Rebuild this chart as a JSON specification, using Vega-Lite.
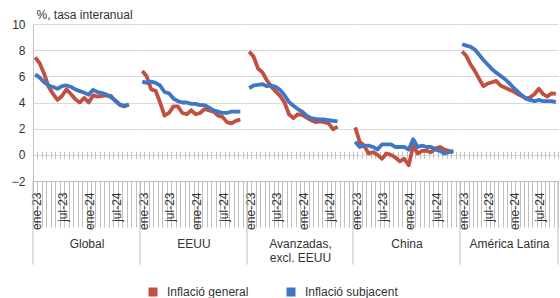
{
"$schema":"https://vega.github.io/schema/vega-lite/v6.json",
"background":"white",
"padding":{"left":5,"top":8,"right":0,"bottom":0},
"spacing":0,
"bounds":"flush",
"data":{"values":[
{"g":"Global","m":"ene-23","s":"Inflació general","v":7.45},{"g":"Global","m":"feb-23","s":"Inflació general","v":7.0},{"g":"Global","m":"mar-23","s":"Inflació general","v":6.2},{"g":"Global","m":"abr-23","s":"Inflació general","v":5.2},{"g":"Global","m":"may-23","s":"Inflació general","v":4.65},{"g":"Global","m":"jun-23","s":"Inflació general","v":4.2},{"g":"Global","m":"jul-23","s":"Inflació general","v":4.5},{"g":"Global","m":"ago-23","s":"Inflació general","v":5.0},{"g":"Global","m":"sep-23","s":"Inflació general","v":4.65},{"g":"Global","m":"oct-23","s":"Inflació general","v":4.25},{"g":"Global","m":"nov-23","s":"Inflació general","v":4.0},{"g":"Global","m":"dic-23","s":"Inflació general","v":4.35},{"g":"Global","m":"ene-24","s":"Inflació general","v":4.0},{"g":"Global","m":"feb-24","s":"Inflació general","v":4.55},{"g":"Global","m":"mar-24","s":"Inflació general","v":4.45},{"g":"Global","m":"abr-24","s":"Inflació general","v":4.5},{"g":"Global","m":"may-24","s":"Inflació general","v":4.55},{"g":"Global","m":"jun-24","s":"Inflació general","v":4.5},{"g":"Global","m":"jul-24","s":"Inflació general","v":4.1},{"g":"Global","m":"ago-24","s":"Inflació general","v":3.8},{"g":"Global","m":"sep-24","s":"Inflació general","v":3.7},{"g":"Global","m":"oct-24","s":"Inflació general","v":3.85},
{"g":"Global","m":"ene-23","s":"Inflació subjacent","v":6.15},{"g":"Global","m":"feb-23","s":"Inflació subjacent","v":5.9},{"g":"Global","m":"mar-23","s":"Inflació subjacent","v":5.55},{"g":"Global","m":"abr-23","s":"Inflació subjacent","v":5.3},{"g":"Global","m":"may-23","s":"Inflació subjacent","v":5.18},{"g":"Global","m":"jun-23","s":"Inflació subjacent","v":5.05},{"g":"Global","m":"jul-23","s":"Inflació subjacent","v":5.25},{"g":"Global","m":"ago-23","s":"Inflació subjacent","v":5.3},{"g":"Global","m":"sep-23","s":"Inflació subjacent","v":5.2},{"g":"Global","m":"oct-23","s":"Inflació subjacent","v":5.0},{"g":"Global","m":"nov-23","s":"Inflació subjacent","v":4.87},{"g":"Global","m":"dic-23","s":"Inflació subjacent","v":4.74},{"g":"Global","m":"ene-24","s":"Inflació subjacent","v":4.6},{"g":"Global","m":"feb-24","s":"Inflació subjacent","v":4.97},{"g":"Global","m":"mar-24","s":"Inflació subjacent","v":4.79},{"g":"Global","m":"abr-24","s":"Inflació subjacent","v":4.72},{"g":"Global","m":"may-24","s":"Inflació subjacent","v":4.6},{"g":"Global","m":"jun-24","s":"Inflació subjacent","v":4.4},{"g":"Global","m":"jul-24","s":"Inflació subjacent","v":4.15},{"g":"Global","m":"ago-24","s":"Inflació subjacent","v":3.85},{"g":"Global","m":"sep-24","s":"Inflació subjacent","v":3.75},{"g":"Global","m":"oct-24","s":"Inflació subjacent","v":3.85},
{"g":"EEUU","m":"ene-23","s":"Inflació general","v":6.4},{"g":"EEUU","m":"feb-23","s":"Inflació general","v":6.0},{"g":"EEUU","m":"mar-23","s":"Inflació general","v":5.0},{"g":"EEUU","m":"abr-23","s":"Inflació general","v":4.9},{"g":"EEUU","m":"may-23","s":"Inflació general","v":4.0},{"g":"EEUU","m":"jun-23","s":"Inflació general","v":3.0},{"g":"EEUU","m":"jul-23","s":"Inflació general","v":3.2},{"g":"EEUU","m":"ago-23","s":"Inflació general","v":3.7},{"g":"EEUU","m":"sep-23","s":"Inflació general","v":3.7},{"g":"EEUU","m":"oct-23","s":"Inflació general","v":3.2},{"g":"EEUU","m":"nov-23","s":"Inflació general","v":3.1},{"g":"EEUU","m":"dic-23","s":"Inflació general","v":3.4},{"g":"EEUU","m":"ene-24","s":"Inflació general","v":3.1},{"g":"EEUU","m":"feb-24","s":"Inflació general","v":3.2},{"g":"EEUU","m":"mar-24","s":"Inflació general","v":3.5},{"g":"EEUU","m":"abr-24","s":"Inflació general","v":3.4},{"g":"EEUU","m":"may-24","s":"Inflació general","v":3.3},{"g":"EEUU","m":"jun-24","s":"Inflació general","v":3.0},{"g":"EEUU","m":"jul-24","s":"Inflació general","v":2.9},{"g":"EEUU","m":"ago-24","s":"Inflació general","v":2.5},{"g":"EEUU","m":"sep-24","s":"Inflació general","v":2.4},{"g":"EEUU","m":"oct-24","s":"Inflació general","v":2.6},{"g":"EEUU","m":"nov-24","s":"Inflació general","v":2.7},
{"g":"EEUU","m":"ene-23","s":"Inflació subjacent","v":5.6},{"g":"EEUU","m":"feb-23","s":"Inflació subjacent","v":5.5},{"g":"EEUU","m":"mar-23","s":"Inflació subjacent","v":5.6},{"g":"EEUU","m":"abr-23","s":"Inflació subjacent","v":5.5},{"g":"EEUU","m":"may-23","s":"Inflació subjacent","v":5.3},{"g":"EEUU","m":"jun-23","s":"Inflació subjacent","v":4.8},{"g":"EEUU","m":"jul-23","s":"Inflació subjacent","v":4.7},{"g":"EEUU","m":"ago-23","s":"Inflació subjacent","v":4.3},{"g":"EEUU","m":"sep-23","s":"Inflació subjacent","v":4.1},{"g":"EEUU","m":"oct-23","s":"Inflació subjacent","v":4.0},{"g":"EEUU","m":"nov-23","s":"Inflació subjacent","v":4.0},{"g":"EEUU","m":"dic-23","s":"Inflació subjacent","v":3.9},{"g":"EEUU","m":"ene-24","s":"Inflació subjacent","v":3.9},{"g":"EEUU","m":"feb-24","s":"Inflació subjacent","v":3.8},{"g":"EEUU","m":"mar-24","s":"Inflació subjacent","v":3.8},{"g":"EEUU","m":"abr-24","s":"Inflació subjacent","v":3.6},{"g":"EEUU","m":"may-24","s":"Inflació subjacent","v":3.4},{"g":"EEUU","m":"jun-24","s":"Inflació subjacent","v":3.3},{"g":"EEUU","m":"jul-24","s":"Inflació subjacent","v":3.2},{"g":"EEUU","m":"ago-24","s":"Inflació subjacent","v":3.2},{"g":"EEUU","m":"sep-24","s":"Inflació subjacent","v":3.3},{"g":"EEUU","m":"oct-24","s":"Inflació subjacent","v":3.3},{"g":"EEUU","m":"nov-24","s":"Inflació subjacent","v":3.3},
{"g":"Avanzadas","m":"ene-23","s":"Inflació general","v":7.9},{"g":"Avanzadas","m":"feb-23","s":"Inflació general","v":7.5},{"g":"Avanzadas","m":"mar-23","s":"Inflació general","v":6.6},{"g":"Avanzadas","m":"abr-23","s":"Inflació general","v":6.3},{"g":"Avanzadas","m":"may-23","s":"Inflació general","v":5.7},{"g":"Avanzadas","m":"jun-23","s":"Inflació general","v":5.2},{"g":"Avanzadas","m":"jul-23","s":"Inflació general","v":4.85},{"g":"Avanzadas","m":"ago-23","s":"Inflació general","v":4.5},{"g":"Avanzadas","m":"sep-23","s":"Inflació general","v":4.0},{"g":"Avanzadas","m":"oct-23","s":"Inflació general","v":3.1},{"g":"Avanzadas","m":"nov-23","s":"Inflació general","v":2.8},{"g":"Avanzadas","m":"dic-23","s":"Inflació general","v":3.1},{"g":"Avanzadas","m":"ene-24","s":"Inflació general","v":3.05},{"g":"Avanzadas","m":"feb-24","s":"Inflació general","v":2.85},{"g":"Avanzadas","m":"mar-24","s":"Inflació general","v":2.65},{"g":"Avanzadas","m":"abr-24","s":"Inflació general","v":2.5},{"g":"Avanzadas","m":"may-24","s":"Inflació general","v":2.55},{"g":"Avanzadas","m":"jun-24","s":"Inflació general","v":2.5},{"g":"Avanzadas","m":"jul-24","s":"Inflació general","v":2.4},{"g":"Avanzadas","m":"ago-24","s":"Inflació general","v":1.95},{"g":"Avanzadas","m":"sep-24","s":"Inflació general","v":2.15},
{"g":"Avanzadas","m":"ene-23","s":"Inflació subjacent","v":5.1},{"g":"Avanzadas","m":"feb-23","s":"Inflació subjacent","v":5.3},{"g":"Avanzadas","m":"mar-23","s":"Inflació subjacent","v":5.35},{"g":"Avanzadas","m":"abr-23","s":"Inflació subjacent","v":5.4},{"g":"Avanzadas","m":"may-23","s":"Inflació subjacent","v":5.25},{"g":"Avanzadas","m":"jun-23","s":"Inflació subjacent","v":5.3},{"g":"Avanzadas","m":"jul-23","s":"Inflació subjacent","v":5.2},{"g":"Avanzadas","m":"ago-23","s":"Inflació subjacent","v":4.95},{"g":"Avanzadas","m":"sep-23","s":"Inflació subjacent","v":4.55},{"g":"Avanzadas","m":"oct-23","s":"Inflació subjacent","v":4.05},{"g":"Avanzadas","m":"nov-23","s":"Inflació subjacent","v":3.75},{"g":"Avanzadas","m":"dic-23","s":"Inflació subjacent","v":3.5},{"g":"Avanzadas","m":"ene-24","s":"Inflació subjacent","v":3.3},{"g":"Avanzadas","m":"feb-24","s":"Inflació subjacent","v":3.0},{"g":"Avanzadas","m":"mar-24","s":"Inflació subjacent","v":2.8},{"g":"Avanzadas","m":"abr-24","s":"Inflació subjacent","v":2.74},{"g":"Avanzadas","m":"may-24","s":"Inflació subjacent","v":2.7},{"g":"Avanzadas","m":"jun-24","s":"Inflació subjacent","v":2.7},{"g":"Avanzadas","m":"jul-24","s":"Inflació subjacent","v":2.65},{"g":"Avanzadas","m":"ago-24","s":"Inflació subjacent","v":2.6},{"g":"Avanzadas","m":"sep-24","s":"Inflació subjacent","v":2.55},
{"g":"China","m":"ene-23","s":"Inflació general","v":2.1},{"g":"China","m":"feb-23","s":"Inflació general","v":1.0},{"g":"China","m":"mar-23","s":"Inflació general","v":0.7},{"g":"China","m":"abr-23","s":"Inflació general","v":0.1},{"g":"China","m":"may-23","s":"Inflació general","v":0.2},{"g":"China","m":"jun-23","s":"Inflació general","v":0.0},{"g":"China","m":"jul-23","s":"Inflació general","v":-0.3},{"g":"China","m":"ago-23","s":"Inflació general","v":0.1},{"g":"China","m":"sep-23","s":"Inflació general","v":0.0},{"g":"China","m":"oct-23","s":"Inflació general","v":-0.2},{"g":"China","m":"nov-23","s":"Inflació general","v":-0.5},{"g":"China","m":"dic-23","s":"Inflació general","v":-0.3},{"g":"China","m":"ene-24","s":"Inflació general","v":-0.8},{"g":"China","m":"feb-24","s":"Inflació general","v":0.7},{"g":"China","m":"mar-24","s":"Inflació general","v":0.1},{"g":"China","m":"abr-24","s":"Inflació general","v":0.3},{"g":"China","m":"may-24","s":"Inflació general","v":0.3},{"g":"China","m":"jun-24","s":"Inflació general","v":0.2},{"g":"China","m":"jul-24","s":"Inflació general","v":0.5},{"g":"China","m":"ago-24","s":"Inflació general","v":0.6},{"g":"China","m":"sep-24","s":"Inflació general","v":0.4},{"g":"China","m":"oct-24","s":"Inflació general","v":0.3},{"g":"China","m":"nov-24","s":"Inflació general","v":0.2},
{"g":"China","m":"ene-23","s":"Inflació subjacent","v":1.0},{"g":"China","m":"feb-23","s":"Inflació subjacent","v":0.6},{"g":"China","m":"mar-23","s":"Inflació subjacent","v":0.7},{"g":"China","m":"abr-23","s":"Inflació subjacent","v":0.7},{"g":"China","m":"may-23","s":"Inflació subjacent","v":0.6},{"g":"China","m":"jun-23","s":"Inflació subjacent","v":0.4},{"g":"China","m":"jul-23","s":"Inflació subjacent","v":0.8},{"g":"China","m":"ago-23","s":"Inflació subjacent","v":0.8},{"g":"China","m":"sep-23","s":"Inflació subjacent","v":0.8},{"g":"China","m":"oct-23","s":"Inflació subjacent","v":0.6},{"g":"China","m":"nov-23","s":"Inflació subjacent","v":0.6},{"g":"China","m":"dic-23","s":"Inflació subjacent","v":0.6},{"g":"China","m":"ene-24","s":"Inflació subjacent","v":0.4},{"g":"China","m":"feb-24","s":"Inflació subjacent","v":1.2},{"g":"China","m":"mar-24","s":"Inflació subjacent","v":0.6},{"g":"China","m":"abr-24","s":"Inflació subjacent","v":0.7},{"g":"China","m":"may-24","s":"Inflació subjacent","v":0.6},{"g":"China","m":"jun-24","s":"Inflació subjacent","v":0.6},{"g":"China","m":"jul-24","s":"Inflació subjacent","v":0.4},{"g":"China","m":"ago-24","s":"Inflació subjacent","v":0.3},{"g":"China","m":"sep-24","s":"Inflació subjacent","v":0.1},{"g":"China","m":"oct-24","s":"Inflació subjacent","v":0.2},{"g":"China","m":"nov-24","s":"Inflació subjacent","v":0.3},
{"g":"AmLat","m":"ene-23","s":"Inflació general","v":7.9},{"g":"AmLat","m":"feb-23","s":"Inflació general","v":7.55},{"g":"AmLat","m":"mar-23","s":"Inflació general","v":6.9},{"g":"AmLat","m":"abr-23","s":"Inflació general","v":6.4},{"g":"AmLat","m":"may-23","s":"Inflació general","v":5.8},{"g":"AmLat","m":"jun-23","s":"Inflació general","v":5.25},{"g":"AmLat","m":"jul-23","s":"Inflació general","v":5.45},{"g":"AmLat","m":"ago-23","s":"Inflació general","v":5.55},{"g":"AmLat","m":"sep-23","s":"Inflació general","v":5.65},{"g":"AmLat","m":"oct-23","s":"Inflació general","v":5.3},{"g":"AmLat","m":"nov-23","s":"Inflació general","v":5.15},{"g":"AmLat","m":"dic-23","s":"Inflació general","v":5.0},{"g":"AmLat","m":"ene-24","s":"Inflació general","v":4.85},{"g":"AmLat","m":"feb-24","s":"Inflació general","v":4.65},{"g":"AmLat","m":"mar-24","s":"Inflació general","v":4.5},{"g":"AmLat","m":"abr-24","s":"Inflació general","v":4.3},{"g":"AmLat","m":"may-24","s":"Inflació general","v":4.4},{"g":"AmLat","m":"jun-24","s":"Inflació general","v":4.65},{"g":"AmLat","m":"jul-24","s":"Inflació general","v":5.05},{"g":"AmLat","m":"ago-24","s":"Inflació general","v":4.65},{"g":"AmLat","m":"sep-24","s":"Inflació general","v":4.45},{"g":"AmLat","m":"oct-24","s":"Inflació general","v":4.7},{"g":"AmLat","m":"nov-24","s":"Inflació general","v":4.65},
{"g":"AmLat","m":"ene-23","s":"Inflació subjacent","v":8.45},{"g":"AmLat","m":"feb-23","s":"Inflació subjacent","v":8.35},{"g":"AmLat","m":"mar-23","s":"Inflació subjacent","v":8.25},{"g":"AmLat","m":"abr-23","s":"Inflació subjacent","v":8.05},{"g":"AmLat","m":"may-23","s":"Inflació subjacent","v":7.65},{"g":"AmLat","m":"jun-23","s":"Inflació subjacent","v":7.25},{"g":"AmLat","m":"jul-23","s":"Inflació subjacent","v":6.9},{"g":"AmLat","m":"ago-23","s":"Inflació subjacent","v":6.55},{"g":"AmLat","m":"sep-23","s":"Inflació subjacent","v":6.28},{"g":"AmLat","m":"oct-23","s":"Inflació subjacent","v":6.05},{"g":"AmLat","m":"nov-23","s":"Inflació subjacent","v":5.8},{"g":"AmLat","m":"dic-23","s":"Inflació subjacent","v":5.5},{"g":"AmLat","m":"ene-24","s":"Inflació subjacent","v":5.15},{"g":"AmLat","m":"feb-24","s":"Inflació subjacent","v":4.85},{"g":"AmLat","m":"mar-24","s":"Inflació subjacent","v":4.55},{"g":"AmLat","m":"abr-24","s":"Inflació subjacent","v":4.3},{"g":"AmLat","m":"may-24","s":"Inflació subjacent","v":4.18},{"g":"AmLat","m":"jun-24","s":"Inflació subjacent","v":4.1},{"g":"AmLat","m":"jul-24","s":"Inflació subjacent","v":4.2},{"g":"AmLat","m":"ago-24","s":"Inflació subjacent","v":4.1},{"g":"AmLat","m":"sep-24","s":"Inflació subjacent","v":4.1},{"g":"AmLat","m":"oct-24","s":"Inflació subjacent","v":4.1},{"g":"AmLat","m":"nov-24","s":"Inflació subjacent","v":4.03}
]},
"hconcat":[
{"width":107,"height":157,
 "layer":[
  {"transform":[{"filter":"datum.g === 'Global'"}],
   "mark":{"type":"line","strokeWidth":3.8,"strokeJoin":"round"},
   "encoding":{
    "x":{"field":"m","type":"ordinal","scale":{"type":"band","paddingInner":0,"paddingOuter":0,"domain":["ene-23","feb-23","mar-23","abr-23","may-23","jun-23","jul-23","ago-23","sep-23","oct-23","nov-23","dic-23","ene-24","feb-24","mar-24","abr-24","may-24","jun-24","jul-24","ago-24","sep-24","oct-24","nov-24","dic-24"]},
     "axis":{"orient":"bottom","title":"Global","tickBand":"extent","tickSize":46,"labelAngle":-90,"labelPadding":-35,"labelOffset":1,"labelOverlap":false,"grid":false,"titlePadding":9,"labelExpr":"indexof(['ene-23','jul-23','ene-24','jul-24'], datum.value) >= 0 ? datum.value : ''"}},
    "y":{"field":"v","type":"quantitative","scale":{"domain":[-2,10],"nice":false,"zero":false},
     "axis":{"values":[-2,0,2,4,6,8,10],"labelOverlap":false,"grid":true,"ticks":false,"domain":true,"labelPadding":8,"minExtent":28,"maxExtent":28,"title":"%, tasa interanual","titleAngle":0,"titleAlign":"left","titleBaseline":"alphabetic","titleX":3,"titleY":-6}},
    "color":{"field":"s","type":"nominal","scale":{"domain":["Inflació general","Inflació subjacent"],"range":["#C0503F","#3F77C6"]},
     "legend":{"orient":"none","legendX":114,"legendY":262,"direction":"horizontal","title":null,"symbolType":"square","symbolSize":16,"symbolStrokeWidth":5,"labelFontSize":12,"labelColor":"#333333","labelOffset":8,"columnPadding":30,"padding":0}}
   }},
  {"data":{"values":[{}]},"mark":{"type":"rule","color":"#bfbfbf"},
   "encoding":{
    "x":{"datum":"ene-23","type":"ordinal","bandPosition":0,"axis":{"orient":"top","offset":-134.3,"tickSize":7,"labels":false,"domain":false,"title":null,"tickBand":"extent","grid":false}},
    "y":{"datum":-2,"type":"quantitative","axis":{"values":[-2,0,2,4,6,8,10],"labelOverlap":false,"grid":true,"ticks":false,"domain":true,"labelPadding":8,"minExtent":28,"maxExtent":28,"title":"%, tasa interanual","titleAngle":0,"titleAlign":"left","titleBaseline":"alphabetic","titleX":3,"titleY":-6}},"y2":{"datum":-8.4}}}
 ],
 "resolve":{"axis":{"x":"independent"}}
},
{"width":107,"height":157,
 "layer":[
  {"transform":[{"filter":"datum.g === 'EEUU'"}],
   "mark":{"type":"line","strokeWidth":3.8,"strokeJoin":"round"},
   "encoding":{
    "x":{"field":"m","type":"ordinal","scale":{"type":"band","paddingInner":0,"paddingOuter":0,"domain":["ene-23","feb-23","mar-23","abr-23","may-23","jun-23","jul-23","ago-23","sep-23","oct-23","nov-23","dic-23","ene-24","feb-24","mar-24","abr-24","may-24","jun-24","jul-24","ago-24","sep-24","oct-24","nov-24","dic-24"]},
     "axis":{"orient":"bottom","title":"EEUU","tickBand":"extent","tickSize":46,"labelAngle":-90,"labelPadding":-35,"labelOffset":1,"labelOverlap":false,"grid":false,"titlePadding":9,"labelExpr":"indexof(['ene-23','jul-23','ene-24','jul-24'], datum.value) >= 0 ? datum.value : ''"}},
    "y":{"field":"v","type":"quantitative","scale":{"domain":[-2,10],"nice":false,"zero":false},
     "axis":{"values":[-2,0,2,4,6,8,10],"grid":true,"ticks":false,"labels":false,"domain":false,"title":null,"minExtent":0,"maxExtent":0}},
    "color":{"field":"s","type":"nominal","scale":{"domain":["Inflació general","Inflació subjacent"],"range":["#C0503F","#3F77C6"]},
     "legend":{"orient":"none","legendX":114,"legendY":262,"direction":"horizontal","title":null,"symbolType":"square","symbolSize":16,"symbolStrokeWidth":5,"labelFontSize":12,"labelColor":"#333333","labelOffset":8,"columnPadding":30,"padding":0}}
   }},
  {"data":{"values":[{}]},"mark":{"type":"rule","color":"#bfbfbf"},
   "encoding":{
    "x":{"datum":"ene-23","type":"ordinal","bandPosition":0,"axis":{"orient":"top","offset":-134.3,"tickSize":7,"labels":false,"domain":false,"title":null,"tickBand":"extent","grid":false}},
    "y":{"datum":-2,"type":"quantitative","axis":{"values":[-2,0,2,4,6,8,10],"grid":true,"ticks":false,"labels":false,"domain":false,"title":null,"minExtent":0,"maxExtent":0}},"y2":{"datum":-8.4}}}
 ],
 "resolve":{"axis":{"x":"independent"}}
},
{"width":106,"height":157,
 "layer":[
  {"transform":[{"filter":"datum.g === 'Avanzadas'"}],
   "mark":{"type":"line","strokeWidth":3.8,"strokeJoin":"round"},
   "encoding":{
    "x":{"field":"m","type":"ordinal","scale":{"type":"band","paddingInner":0,"paddingOuter":0,"domain":["ene-23","feb-23","mar-23","abr-23","may-23","jun-23","jul-23","ago-23","sep-23","oct-23","nov-23","dic-23","ene-24","feb-24","mar-24","abr-24","may-24","jun-24","jul-24","ago-24","sep-24","oct-24","nov-24","dic-24"]},
     "axis":{"orient":"bottom","title":["Avanzadas,","excl. EEUU"],"titleLineHeight":14,"tickBand":"extent","tickSize":46,"labelAngle":-90,"labelPadding":-35,"labelOffset":1,"labelOverlap":false,"grid":false,"titlePadding":9,"labelExpr":"indexof(['ene-23','jul-23','ene-24','jul-24'], datum.value) >= 0 ? datum.value : ''"}},
    "y":{"field":"v","type":"quantitative","scale":{"domain":[-2,10],"nice":false,"zero":false},
     "axis":{"values":[-2,0,2,4,6,8,10],"grid":true,"ticks":false,"labels":false,"domain":false,"title":null,"minExtent":0,"maxExtent":0}},
    "color":{"field":"s","type":"nominal","scale":{"domain":["Inflació general","Inflació subjacent"],"range":["#C0503F","#3F77C6"]},
     "legend":{"orient":"none","legendX":114,"legendY":262,"direction":"horizontal","title":null,"symbolType":"square","symbolSize":16,"symbolStrokeWidth":5,"labelFontSize":12,"labelColor":"#333333","labelOffset":8,"columnPadding":30,"padding":0}}
   }},
  {"data":{"values":[{}]},"mark":{"type":"rule","color":"#bfbfbf"},
   "encoding":{
    "x":{"datum":"ene-23","type":"ordinal","bandPosition":0,"axis":{"orient":"top","offset":-134.3,"tickSize":7,"labels":false,"domain":false,"title":null,"tickBand":"extent","grid":false}},
    "y":{"datum":-2,"type":"quantitative","axis":{"values":[-2,0,2,4,6,8,10],"grid":true,"ticks":false,"labels":false,"domain":false,"title":null,"minExtent":0,"maxExtent":0}},"y2":{"datum":-8.4}}}
 ],
 "resolve":{"axis":{"x":"independent"}}
},
{"width":107,"height":157,
 "layer":[
  {"transform":[{"filter":"datum.g === 'China'"}],
   "mark":{"type":"line","strokeWidth":3.8,"strokeJoin":"round"},
   "encoding":{
    "x":{"field":"m","type":"ordinal","scale":{"type":"band","paddingInner":0,"paddingOuter":0,"domain":["ene-23","feb-23","mar-23","abr-23","may-23","jun-23","jul-23","ago-23","sep-23","oct-23","nov-23","dic-23","ene-24","feb-24","mar-24","abr-24","may-24","jun-24","jul-24","ago-24","sep-24","oct-24","nov-24","dic-24"]},
     "axis":{"orient":"bottom","title":"China","tickBand":"extent","tickSize":46,"labelAngle":-90,"labelPadding":-35,"labelOffset":1,"labelOverlap":false,"grid":false,"titlePadding":9,"labelExpr":"indexof(['ene-23','jul-23','ene-24','jul-24'], datum.value) >= 0 ? datum.value : ''"}},
    "y":{"field":"v","type":"quantitative","scale":{"domain":[-2,10],"nice":false,"zero":false},
     "axis":{"values":[-2,0,2,4,6,8,10],"grid":true,"ticks":false,"labels":false,"domain":false,"title":null,"minExtent":0,"maxExtent":0}},
    "color":{"field":"s","type":"nominal","scale":{"domain":["Inflació general","Inflació subjacent"],"range":["#C0503F","#3F77C6"]},
     "legend":{"orient":"none","legendX":114,"legendY":262,"direction":"horizontal","title":null,"symbolType":"square","symbolSize":16,"symbolStrokeWidth":5,"labelFontSize":12,"labelColor":"#333333","labelOffset":8,"columnPadding":30,"padding":0}}
   }},
  {"data":{"values":[{}]},"mark":{"type":"rule","color":"#bfbfbf"},
   "encoding":{
    "x":{"datum":"ene-23","type":"ordinal","bandPosition":0,"axis":{"orient":"top","offset":-134.3,"tickSize":7,"labels":false,"domain":false,"title":null,"tickBand":"extent","grid":false}},
    "y":{"datum":-2,"type":"quantitative","axis":{"values":[-2,0,2,4,6,8,10],"grid":true,"ticks":false,"labels":false,"domain":false,"title":null,"minExtent":0,"maxExtent":0}},"y2":{"datum":-8.4}}}
 ],
 "resolve":{"axis":{"x":"independent"}}
},
{"width":98,"height":157,
 "layer":[
  {"transform":[{"filter":"datum.g === 'AmLat'"}],
   "mark":{"type":"line","strokeWidth":3.8,"strokeJoin":"round"},
   "encoding":{
    "x":{"field":"m","type":"ordinal","scale":{"type":"band","paddingInner":0,"paddingOuter":0,"domain":["ene-23","feb-23","mar-23","abr-23","may-23","jun-23","jul-23","ago-23","sep-23","oct-23","nov-23","dic-23","ene-24","feb-24","mar-24","abr-24","may-24","jun-24","jul-24","ago-24","sep-24","oct-24","nov-24"]},
     "axis":{"orient":"bottom","title":"América Latina","tickBand":"extent","tickSize":46,"labelAngle":-90,"labelPadding":-35,"labelOffset":1,"labelOverlap":false,"grid":false,"titlePadding":9,"labelExpr":"indexof(['ene-23','jul-23','ene-24','jul-24'], datum.value) >= 0 ? datum.value : ''"}},
    "y":{"field":"v","type":"quantitative","scale":{"domain":[-2,10],"nice":false,"zero":false},
     "axis":{"values":[-2,0,2,4,6,8,10],"grid":true,"ticks":false,"labels":false,"domain":false,"title":null,"minExtent":0,"maxExtent":0}},
    "color":{"field":"s","type":"nominal","scale":{"domain":["Inflació general","Inflació subjacent"],"range":["#C0503F","#3F77C6"]},
     "legend":{"orient":"none","legendX":114,"legendY":262,"direction":"horizontal","title":null,"symbolType":"square","symbolSize":16,"symbolStrokeWidth":5,"labelFontSize":12,"labelColor":"#333333","labelOffset":8,"columnPadding":30,"padding":0}}
   }},
  {"data":{"values":[{}]},"mark":{"type":"rule","color":"#bfbfbf"},
   "encoding":{
    "x":{"datum":"ene-23","type":"ordinal","bandPosition":0,"axis":{"orient":"top","offset":-134.3,"tickSize":7,"labels":false,"domain":false,"title":null,"tickBand":"extent","grid":false}},
    "y":{"datum":-2,"type":"quantitative","axis":{"values":[-2,0,2,4,6,8,10],"grid":true,"ticks":false,"labels":false,"domain":false,"title":null,"minExtent":0,"maxExtent":0}},"y2":{"datum":-8.4}}},
  {"data":{"values":[{}]},"mark":{"type":"rule","color":"#bfbfbf"},
   "encoding":{
    "x":{"datum":"nov-24","type":"ordinal","bandPosition":1,"axis":null},
    "y":{"datum":-2,"type":"quantitative","axis":{"values":[-2,0,2,4,6,8,10],"grid":true,"ticks":false,"labels":false,"domain":false,"title":null,"minExtent":0,"maxExtent":0}},"y2":{"datum":-8.4}}}
 ],
 "resolve":{"axis":{"x":"independent"}}
}
],
"resolve":{"scale":{"color":"shared"},"legend":{"color":"shared"}},
"config":{
 "font":"Liberation Sans",
 "view":{"stroke":null},
 "axis":{"labelFontSize":12,"labelColor":"#333333","titleFontSize":12,"titleFontWeight":"normal","titleColor":"#333333","gridColor":"#d9d9d9","domainColor":"#bfbfbf","tickColor":"#bfbfbf","labelFont":"Liberation Sans","titleFont":"Liberation Sans"},
 "legend":{"labelFont":"Liberation Sans"}
}
}
